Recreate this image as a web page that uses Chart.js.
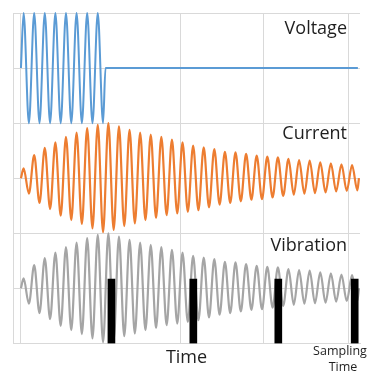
<!DOCTYPE html>
<html>
<head>
<meta charset="utf-8">
<script src="https://cdn.jsdelivr.net/npm/chart.js@4.4.1/dist/chart.umd.min.js"></script>
<style>
  html, body { margin: 0; padding: 0; background: #fff; }
  #wrap { width: 382px; height: 386px; position: relative; }
</style>
</head>
<body>
<div id="wrap"><canvas id="chart"></canvas></div>
<script>
// Time is in cycles of the drive signal, each panel runs -1..1
const seriesNames = ['Voltage', 'Current', 'Vibration'];

// Voltage: 8 full cycles, then switched off
const voltTimes = [0, 0.25, 0.75, 1.25, 1.75, 2.25, 2.75, 3.25, 3.75, 4.25, 4.75,
    5.25, 5.75, 6.25, 6.75, 7.25, 7.75, 7.98, 31.8];
const voltValues = [0, 1, -1, 1, -1, 1, -1, 1, -1, 1, -1,
    1, -1, 1, -1, 1, -1, 0, 0];

// peaks / troughs of the current and vibration response
const waveTimes = [0, 0.25, 0.75, 1.25, 1.75, 2.25, 2.75, 3.25, 3.75, 4.25, 4.75,
    5.25, 5.75, 6.25, 6.75, 7.25, 7.75, 8.25, 8.75, 9.25, 9.75,
    10.25, 10.75, 11.25, 11.75, 12.25, 12.75, 13.25, 13.75, 14.25, 14.75,
    15.25, 15.75, 16.25, 16.75, 17.25, 17.75, 18.25, 18.75, 19.25, 19.75,
    20.25, 20.75, 21.25, 21.75, 22.25, 22.75, 23.25, 23.75, 24.25, 24.75,
    25.25, 25.75, 26.25, 26.75, 27.25, 27.75, 28.25, 28.75, 29.25, 29.75,
    30.25, 30.75, 31.25, 31.75, 31.9];
const currentValues = [0, 0.18, -0.28, 0.42, -0.45, 0.55, -0.56, 0.65, -0.68, 0.75, -0.76,
    0.83, -0.83, 0.91, -0.91, 0.97, -0.98, 1.0, -0.94, 0.94, -0.87,
    0.88, -0.82, 0.83, -0.76, 0.79, -0.72, 0.75, -0.67, 0.70, -0.64,
    0.65, -0.61, 0.59, -0.58, 0.56, -0.53, 0.53, -0.48, 0.48, -0.45,
    0.47, -0.42, 0.44, -0.39, 0.41, -0.38, 0.39, -0.35, 0.38, -0.32,
    0.35, -0.30, 0.33, -0.28, 0.32, -0.27, 0.29, -0.26, 0.27, -0.24,
    0.25, -0.23, 0.24, -0.22, 0.0];
const vibrationValues = [0, 0.18, -0.28, 0.42, -0.45, 0.55, -0.56, 0.65, -0.68, 0.75, -0.76,
    0.83, -0.83, 0.91, -0.91, 0.97, -0.98, 1.0, -0.94, 0.94, -0.87,
    0.88, -0.82, 0.83, -0.76, 0.79, -0.72, 0.75, -0.67, 0.70, -0.64,
    0.65, -0.61, 0.59, -0.58, 0.56, -0.53, 0.53, -0.48, 0.48, -0.45,
    0.47, -0.42, 0.44, -0.39, 0.41, -0.38, 0.39, -0.35, 0.38, -0.32,
    0.35, -0.30, 0.33, -0.28, 0.32, -0.27, 0.29, -0.26, 0.27, -0.24,
    0.25, -0.23, 0.24, -0.22, 0.0];

// sampling instants (black bars in the vibration panel)
const sampleTimes = [8.54, 16.27, 24.29, 31.5];
const sampleLow = -1;
const sampleHigh = 0.17;

// vertical grid lines
const xGridTicks = [-0.75, 0, 15.1, 22.9, 30.9];

const toPoints = (xs, ys) => xs.map((x, i) => ({ x: x, y: ys[i] }));

const gridColor = '#d9d9d9';
const textColor = '#1f1f1f';

function panelAxis() {
    return {
        type: 'linear',
        position: 'left',
        stack: 'panels',
        stackWeight: 1,
        offset: false,
        min: -1,
        max: 1,
        ticks: { display: false, stepSize: 1 },
        grid: { color: gridColor, drawTicks: false },
        border: { color: gridColor }
    };
}

// series names inside each panel, plus the "Sampling Time" note
const labelPlugin = {
    id: 'panelLabels',
    afterDraw(chart) {
        const ctx = chart.ctx;
        const right = 347;
        const axes = ['yV', 'yC', 'yB'];
        const offsets = [20.5, 15.5, 18];
        ctx.save();
        ctx.fillStyle = textColor;
        ctx.textAlign = 'right';
        ctx.textBaseline = 'alphabetic';
        ctx.font = '18px "Open Sans"';
        axes.forEach((id, i) => {
            ctx.fillText(seriesNames[i], right, chart.scales[id].top + offsets[i]);
        });
        ctx.textAlign = 'center';
        ctx.font = '12.5px "Open Sans"';
        ctx.fillText('Sampling', 340, 355);
        ctx.fillText('Time', 343, 370.5);
        ctx.restore();
    }
};

new Chart(document.getElementById('chart'), {
    type: 'line',
    data: {
        datasets: [
            {
                type: 'bar',
                data: sampleTimes.map(t => ({ x: t, y: [sampleLow, sampleHigh] })),
                yAxisID: 'yB',
                backgroundColor: '#000000',
                barThickness: 7,
                order: 0
            },
            {
                data: toPoints(voltTimes, voltValues),
                yAxisID: 'yV',
                borderColor: '#5b9bd5',
                borderWidth: 2,
                pointRadius: 0,
                cubicInterpolationMode: 'monotone',
                clip: false,
                order: 1
            },
            {
                data: toPoints(waveTimes, currentValues),
                yAxisID: 'yC',
                borderColor: '#ed7d31',
                borderWidth: 2.2,
                pointRadius: 0,
                cubicInterpolationMode: 'monotone',
                clip: false,
                order: 1
            },
            {
                data: toPoints(waveTimes, vibrationValues),
                yAxisID: 'yB',
                borderColor: '#a5a5a5',
                borderWidth: 2.2,
                pointRadius: 0,
                cubicInterpolationMode: 'monotone',
                clip: false,
                order: 2
            }
        ]
    },
    options: {
        responsive: true,
        maintainAspectRatio: false,
        animation: false,
        layout: { padding: { left: 13, top: 13, right: 22, bottom: 14 } },
        plugins: {
            legend: { display: false },
            tooltip: { enabled: false }
        },
        scales: {
            x: {
                type: 'linear',
                min: -0.75,
                max: 32,
                offset: false,
                afterBuildTicks: axis => {
                    axis.ticks = xGridTicks.map(v => ({ value: v }));
                },
                ticks: { display: false },
                grid: { color: gridColor, drawTicks: false, offset: false },
                border: { color: gridColor },
                title: {
                    display: true,
                    text: 'Time',
                    color: textColor,
                    font: { family: '"Open Sans"', size: 18 },
                    padding: { top: 4, bottom: 3 }
                }
            },
            yB: panelAxis(),
            yC: panelAxis(),
            yV: panelAxis()
        }
    },
    plugins: [labelPlugin]
});
</script>
</body>
</html>
